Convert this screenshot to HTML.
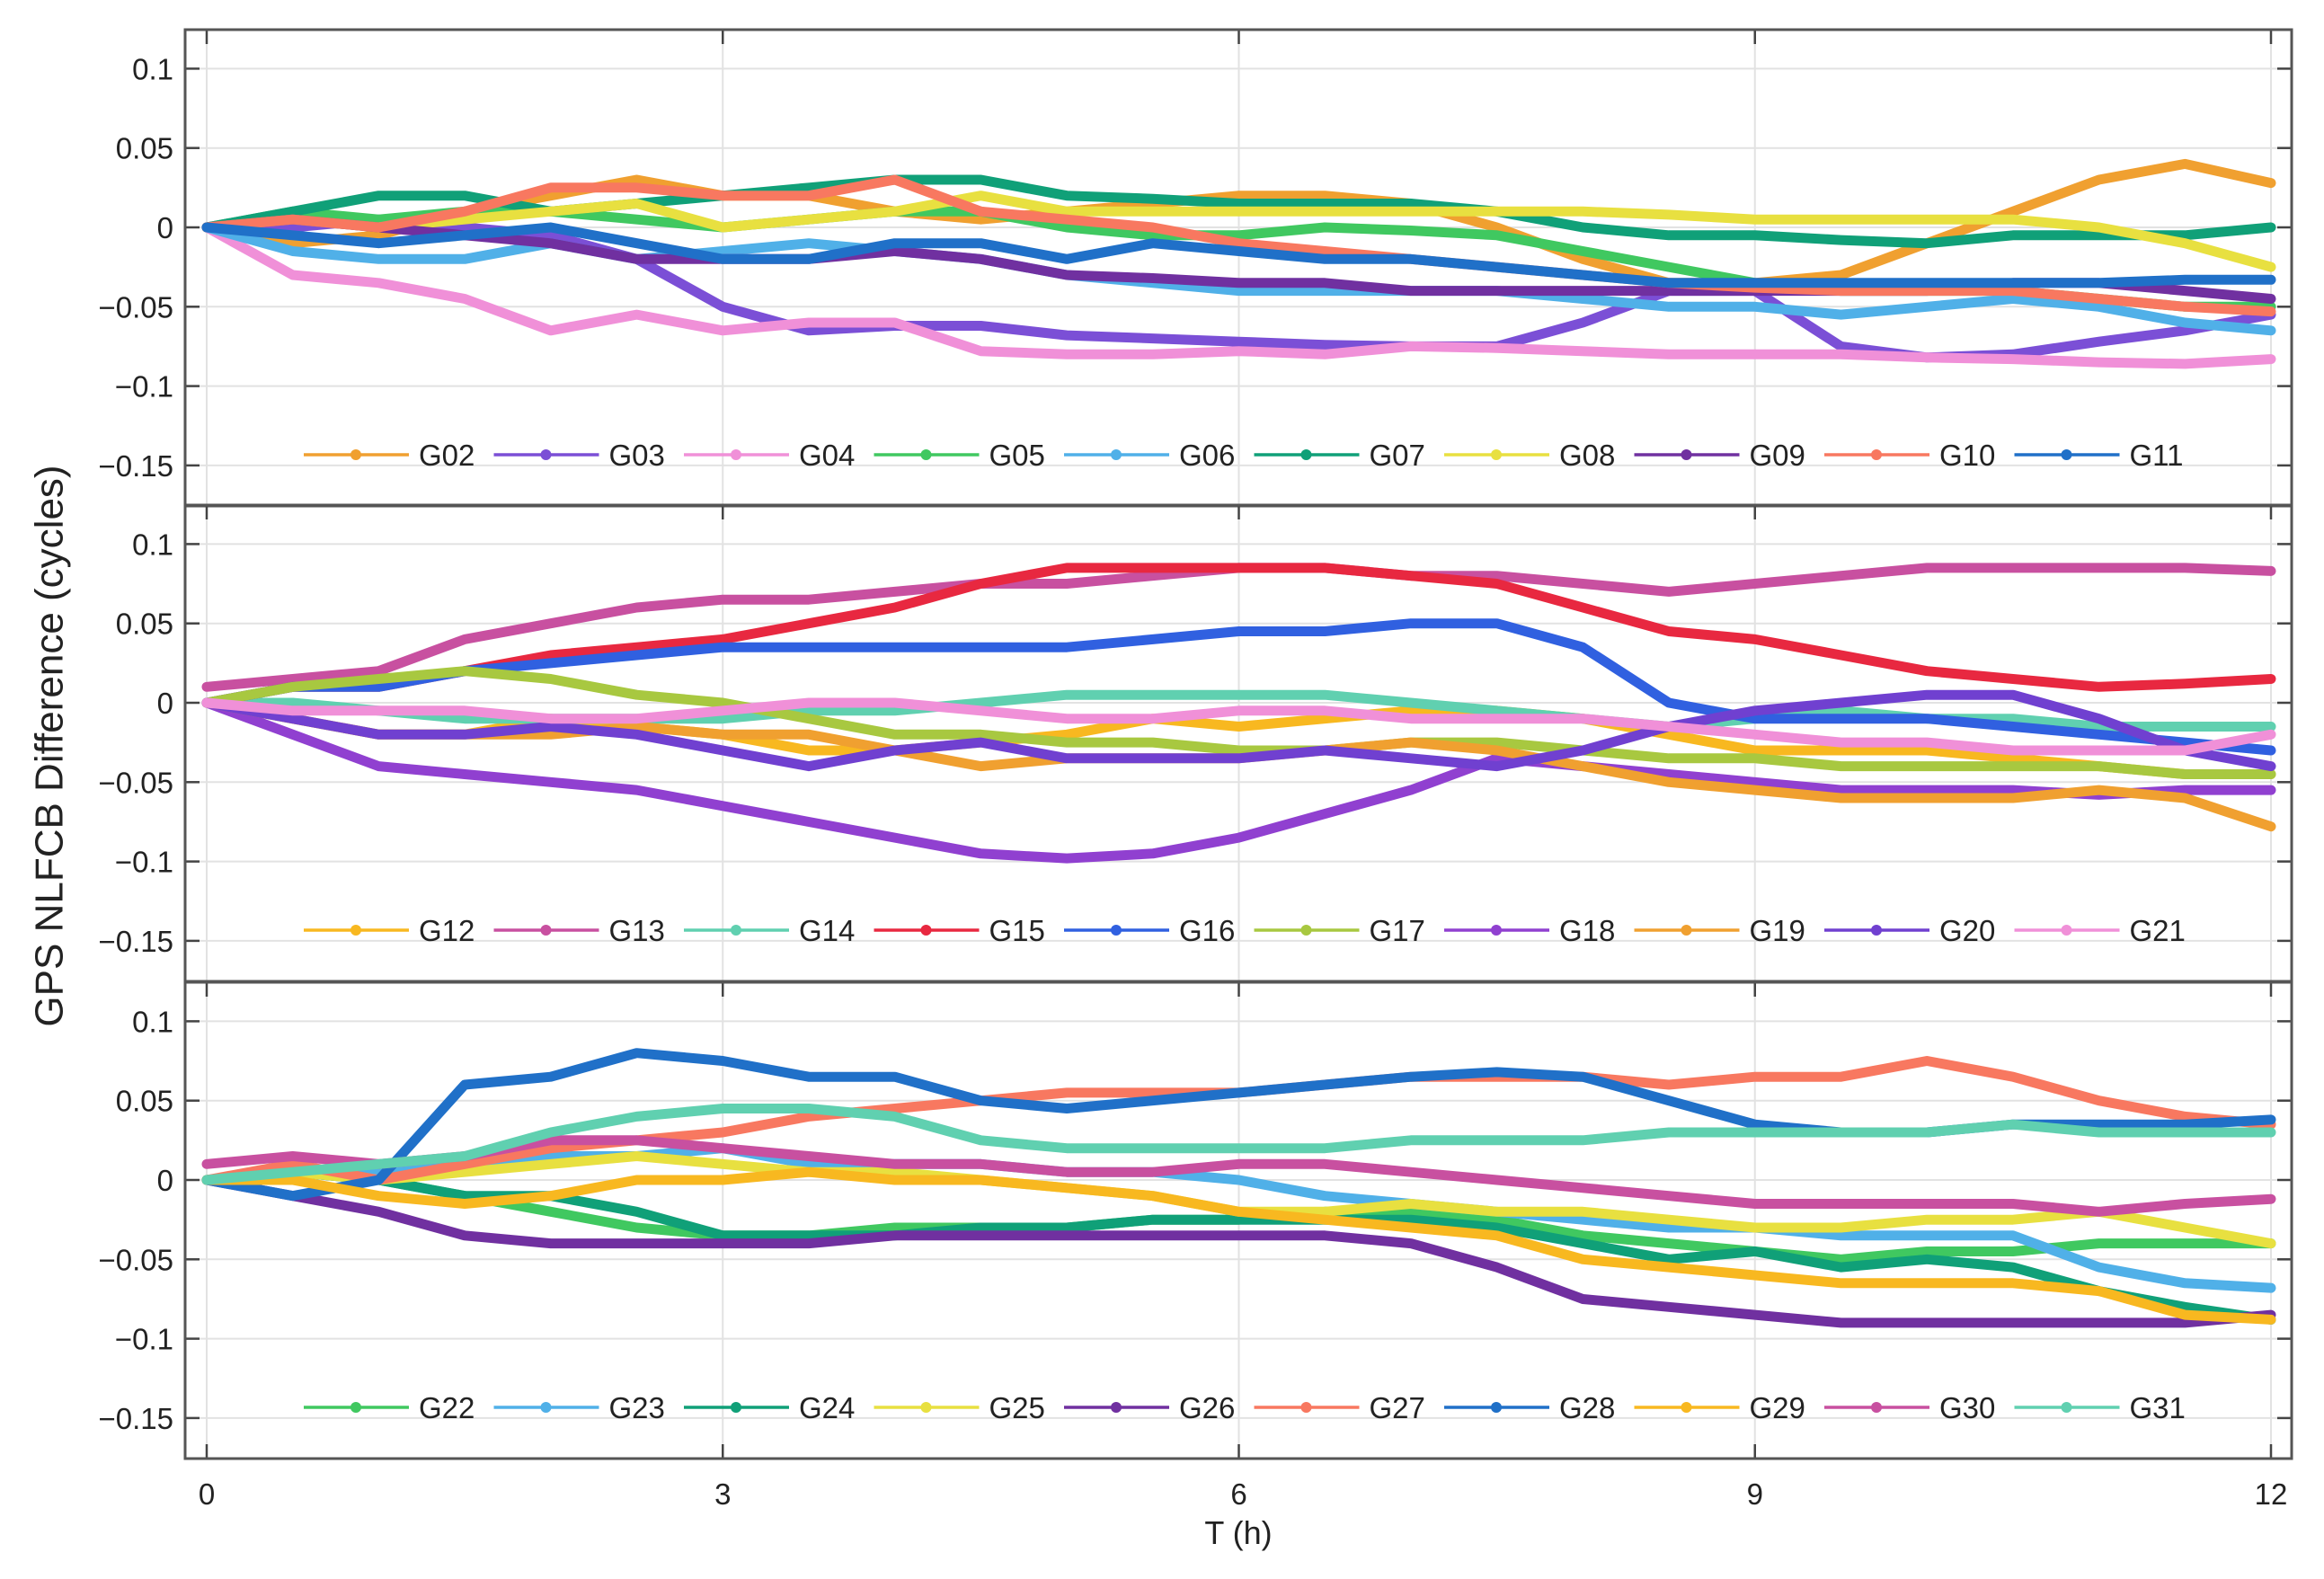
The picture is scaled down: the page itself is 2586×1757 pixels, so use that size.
<!DOCTYPE html>
<html><head><meta charset="utf-8">
<style>
html,body{margin:0;padding:0;background:#fff;}
svg{display:block;font-family:"Liberation Sans",Arial,sans-serif;}
</style></head>
<body>
<svg id="chart" width="2586" height="1757" viewBox="0 0 2586 1757" xmlns="http://www.w3.org/2000/svg">
<rect x="0" y="0" width="2586" height="1757" fill="#fff"/>
<text x="58" y="830" font-size="44" text-anchor="middle" fill="#222" transform="rotate(-90 58 830)" dominant-baseline="middle">GPS NLFCB Difference (cycles)</text>
<text x="1378" y="1718" font-size="36" text-anchor="middle" fill="#222">T (h)</text>
</svg>
<script>
const times = [0,0.5,1,1.5,2,2.5,3,3.5,4,4.5,5,5.5,6,6.5,7,7.5,8,8.5,9,9.5,10,10.5,11,11.5,12];
const xTicks = [0,3,6,9,12];
const yTicks = [0.1,0.05,0,-0.05,-0.1,-0.15];
const yTickLabels = ["0.1","0.05","0","\u22120.05","\u22120.1","\u22120.15"];
const panel1Names = ["G02","G03","G04","G05","G06","G07","G08","G09","G10","G11"];
const panel1Colors = ["#F0A030","#7B4FD6","#F090D8","#40C860","#50B0E8","#10A078","#E8E040","#7030A0","#F87860","#2070C8"];
const panel1Values = [
[0,-0.01,-0.005,0.01,0.02,0.03,0.02,0.02,0.01,0.005,0.01,0.015,0.02,0.02,0.015,0.0,-0.02,-0.035,-0.035,-0.03,-0.01,0.01,0.03,0.04,0.028],
[0,0,0.005,0.0,-0.005,-0.02,-0.05,-0.065,-0.062,-0.062,-0.068,-0.07,-0.072,-0.074,-0.075,-0.075,-0.06,-0.04,-0.04,-0.075,-0.082,-0.08,-0.072,-0.065,-0.055],
[0,-0.03,-0.035,-0.045,-0.065,-0.055,-0.065,-0.06,-0.06,-0.078,-0.08,-0.08,-0.078,-0.08,-0.075,-0.076,-0.078,-0.08,-0.08,-0.08,-0.082,-0.083,-0.085,-0.086,-0.083],
[0,0.01,0.005,0.01,0.01,0.005,0.0,0.005,0.01,0.01,0.0,-0.005,-0.005,0.0,-0.002,-0.005,-0.015,-0.025,-0.035,-0.04,-0.04,-0.04,-0.045,-0.05,-0.05],
[0,-0.015,-0.02,-0.02,-0.01,-0.02,-0.015,-0.01,-0.015,-0.02,-0.03,-0.035,-0.04,-0.04,-0.04,-0.04,-0.045,-0.05,-0.05,-0.055,-0.05,-0.045,-0.05,-0.06,-0.065],
[0,0.01,0.02,0.02,0.01,0.015,0.02,0.025,0.03,0.03,0.02,0.018,0.015,0.015,0.015,0.01,0.0,-0.005,-0.005,-0.008,-0.01,-0.005,-0.005,-0.005,0.0],
[0,0.005,0.0,0.005,0.01,0.015,0.0,0.005,0.01,0.02,0.01,0.01,0.01,0.01,0.01,0.01,0.01,0.008,0.005,0.005,0.005,0.005,0.0,-0.01,-0.025],
[0,0.005,0.0,-0.005,-0.01,-0.02,-0.02,-0.02,-0.015,-0.02,-0.03,-0.032,-0.035,-0.035,-0.04,-0.04,-0.04,-0.04,-0.04,-0.04,-0.04,-0.035,-0.035,-0.04,-0.045],
[0,0.005,0.0,0.01,0.025,0.025,0.02,0.02,0.03,0.01,0.005,0.0,-0.01,-0.015,-0.02,-0.025,-0.03,-0.035,-0.038,-0.04,-0.04,-0.04,-0.045,-0.05,-0.053],
[0,-0.005,-0.01,-0.005,0.0,-0.01,-0.02,-0.02,-0.01,-0.01,-0.02,-0.01,-0.015,-0.02,-0.02,-0.025,-0.03,-0.035,-0.035,-0.035,-0.035,-0.035,-0.035,-0.033,-0.033]
];
const panel2Names = ["G12","G13","G14","G15","G16","G17","G18","G19","G20","G21"];
const panel2Colors = ["#F8B820","#C850A0","#60D0B0","#E82840","#3060E0","#A8C840","#9040D0","#F0A030","#7040D0","#F090D8"];
const panel2Values = [
[0,-0.01,-0.02,-0.02,-0.01,-0.015,-0.02,-0.03,-0.03,-0.025,-0.02,-0.01,-0.015,-0.01,-0.005,-0.005,-0.01,-0.02,-0.03,-0.03,-0.03,-0.035,-0.04,-0.045,-0.045],
[0.01,0.015,0.02,0.04,0.05,0.06,0.065,0.065,0.07,0.075,0.075,0.08,0.085,0.085,0.08,0.08,0.075,0.07,0.075,0.08,0.085,0.085,0.085,0.085,0.083],
[0,0.0,-0.005,-0.01,-0.01,-0.01,-0.01,-0.005,-0.005,0.0,0.005,0.005,0.005,0.005,0.0,-0.005,-0.01,-0.015,-0.01,-0.005,-0.01,-0.01,-0.015,-0.015,-0.015],
[0,0.01,0.01,0.02,0.03,0.035,0.04,0.05,0.06,0.075,0.085,0.085,0.085,0.085,0.08,0.075,0.06,0.045,0.04,0.03,0.02,0.015,0.01,0.012,0.015],
[0,0.01,0.01,0.02,0.025,0.03,0.035,0.035,0.035,0.035,0.035,0.04,0.045,0.045,0.05,0.05,0.035,0.0,-0.01,-0.01,-0.01,-0.015,-0.02,-0.025,-0.03],
[0,0.01,0.015,0.02,0.015,0.005,0.0,-0.01,-0.02,-0.02,-0.025,-0.025,-0.03,-0.03,-0.025,-0.025,-0.03,-0.035,-0.035,-0.04,-0.04,-0.04,-0.04,-0.045,-0.045],
[0,-0.02,-0.04,-0.045,-0.05,-0.055,-0.065,-0.075,-0.085,-0.095,-0.098,-0.095,-0.085,-0.07,-0.055,-0.035,-0.04,-0.045,-0.05,-0.055,-0.055,-0.055,-0.058,-0.055,-0.055],
[0,-0.01,-0.02,-0.02,-0.02,-0.015,-0.02,-0.02,-0.03,-0.04,-0.035,-0.035,-0.035,-0.03,-0.025,-0.03,-0.04,-0.05,-0.055,-0.06,-0.06,-0.06,-0.055,-0.06,-0.078],
[0,-0.01,-0.02,-0.02,-0.015,-0.02,-0.03,-0.04,-0.03,-0.025,-0.035,-0.035,-0.035,-0.03,-0.035,-0.04,-0.03,-0.015,-0.005,0.0,0.005,0.005,-0.01,-0.03,-0.04],
[0,-0.005,-0.005,-0.005,-0.01,-0.01,-0.005,0.0,0.0,-0.005,-0.01,-0.01,-0.005,-0.005,-0.01,-0.01,-0.01,-0.015,-0.02,-0.025,-0.025,-0.03,-0.03,-0.03,-0.02]
];
const panel3Names = ["G22","G23","G24","G25","G26","G27","G28","G29","G30","G31"];
const panel3Colors = ["#40C860","#50B0E8","#10A078","#E8E040","#7030A0","#F87860","#2070C8","#F8B820","#C850A0","#60D0B0"];
const panel3Values = [
[0,0.005,0.0,-0.01,-0.02,-0.03,-0.035,-0.035,-0.03,-0.03,-0.03,-0.025,-0.025,-0.02,-0.02,-0.025,-0.035,-0.04,-0.045,-0.05,-0.045,-0.045,-0.04,-0.04,-0.04],
[0,0.005,0.005,0.01,0.015,0.015,0.02,0.01,0.01,0.01,0.005,0.005,0.0,-0.01,-0.015,-0.02,-0.025,-0.03,-0.03,-0.035,-0.035,-0.035,-0.055,-0.065,-0.068],
[0,0.005,0.0,-0.01,-0.01,-0.02,-0.035,-0.035,-0.035,-0.03,-0.03,-0.025,-0.025,-0.025,-0.025,-0.03,-0.04,-0.05,-0.045,-0.055,-0.05,-0.055,-0.07,-0.08,-0.088],
[0,0.005,0.0,0.005,0.01,0.015,0.01,0.005,0.005,0.0,-0.005,-0.01,-0.02,-0.02,-0.015,-0.02,-0.02,-0.025,-0.03,-0.03,-0.025,-0.025,-0.02,-0.03,-0.04],
[0,-0.01,-0.02,-0.035,-0.04,-0.04,-0.04,-0.04,-0.035,-0.035,-0.035,-0.035,-0.035,-0.035,-0.04,-0.055,-0.075,-0.08,-0.085,-0.09,-0.09,-0.09,-0.09,-0.09,-0.085],
[0,0.01,0.0,0.01,0.02,0.025,0.03,0.04,0.045,0.05,0.055,0.055,0.055,0.06,0.065,0.065,0.065,0.06,0.065,0.065,0.075,0.065,0.05,0.04,0.035],
[0,-0.01,0.0,0.06,0.065,0.08,0.075,0.065,0.065,0.05,0.045,0.05,0.055,0.06,0.065,0.068,0.065,0.05,0.035,0.03,0.03,0.035,0.035,0.035,0.038],
[0,0.0,-0.01,-0.015,-0.01,0.0,0.0,0.005,0.0,0.0,-0.005,-0.01,-0.02,-0.025,-0.03,-0.035,-0.05,-0.055,-0.06,-0.065,-0.065,-0.065,-0.07,-0.085,-0.088],
[0.01,0.015,0.01,0.015,0.025,0.025,0.02,0.015,0.01,0.01,0.005,0.005,0.01,0.01,0.005,0.0,-0.005,-0.01,-0.015,-0.015,-0.015,-0.015,-0.02,-0.015,-0.012],
[0,0.005,0.01,0.015,0.03,0.04,0.045,0.045,0.04,0.025,0.02,0.02,0.02,0.02,0.025,0.025,0.025,0.03,0.03,0.03,0.03,0.035,0.03,0.03,0.03]
];

const NS = "http://www.w3.org/2000/svg";
const svg = document.getElementById('chart');
const L = 206, R = 2550, X0 = 230, X12 = 2527;
const panelTops = [33, 562, 1093];
const panelH = 530;
const Y0OFF = 220, PER = 88.3 / 0.05;
function xs(t){ return X0 + (X12 - X0) * t / 12; }
function ys(p, v){ return panelTops[p] + Y0OFF - v * PER; }
function mk(tag, attrs, parent){
  const e = document.createElementNS(NS, tag);
  for (const k in attrs) e.setAttribute(k, attrs[k]);
  (parent || svg).appendChild(e);
  return e;
}
const panels = [
  {names: panel1Names, colors: panel1Colors, values: panel1Values},
  {names: panel2Names, colors: panel2Colors, values: panel2Values},
  {names: panel3Names, colors: panel3Colors, values: panel3Values}
];
panels.forEach((pd, p) => {
  const g = mk('g', {});
  
  
  const top = panelTops[p], bot = top + panelH;
  xTicks.forEach(t => {
    const gl = mk('line', {x1: xs(t), x2: xs(t), y1: top, y2: bot, stroke: '#e2e2e2', 'stroke-width': 2}, g);
    
    
  });
  yTicks.forEach((v, i) => {
    const gl = mk('line', {x1: L, x2: R, y1: ys(p, v), y2: ys(p, v), stroke: '#e2e2e2', 'stroke-width': 2}, g);
    
    
    const tk1 = mk('line', {x1: L, x2: L + 16, y1: ys(p, v), y2: ys(p, v), stroke: '#444', 'stroke-width': 2.5}, g);
    
    
    const tk2 = mk('line', {x1: R - 16, x2: R, y1: ys(p, v), y2: ys(p, v), stroke: '#444', 'stroke-width': 2.5}, g);
    
    
    const lab = mk('text', {x: 193, y: ys(p, v) + 12, 'font-size': 33, 'text-anchor': 'end', fill: '#222'}, g);
    
    
    lab.textContent = yTickLabels[i];
  });
  xTicks.forEach(t => {
    const tk = mk('line', {x1: xs(t), x2: xs(t), y1: top, y2: top + 16, stroke: '#444', 'stroke-width': 2.5}, g);
    
    
    if (p === 2) {
      const tb = mk('line', {x1: xs(t), x2: xs(t), y1: bot - 16, y2: bot, stroke: '#444', 'stroke-width': 2.5}, g);
      
      
    }
  });
  pd.values.forEach((vals, i) => {
    const pts = vals.map((v, k) => xs(times[k]).toFixed(1) + ',' + ys(p, v).toFixed(1)).join(' ');
    const pl = mk('polyline', {points: pts, fill: 'none', stroke: pd.colors[i], 'stroke-width': 11, 'stroke-linejoin': 'round', 'stroke-linecap': 'round'}, g);
    
    
  });
  const ly = top + 473;
  pd.names.forEach((n, i) => {
    const x = 338 + i * 211.5;
    const le = mk('g', {}, g);
    
    
    mk('line', {x1: x, x2: x + 117, y1: ly, y2: ly, stroke: pd.colors[i], 'stroke-width': 3.5}, le);
    mk('circle', {cx: x + 58, cy: ly, r: 6, fill: pd.colors[i]}, le);
    const t = mk('text', {x: x + 128, y: ly + 12, 'font-size': 33, fill: '#222'}, le);
    t.textContent = n;
  });
  const fr = mk('rect', {x: L, y: top, width: R - L, height: panelH, fill: 'none', stroke: '#555', 'stroke-width': 3}, g);
  
  
});
xTicks.forEach(t => {
  const lab = mk('text', {x: xs(t), y: 1674, 'font-size': 33, 'text-anchor': 'middle', fill: '#222'});
  
  
  lab.textContent = String(t);
});
</script>
</body></html>
